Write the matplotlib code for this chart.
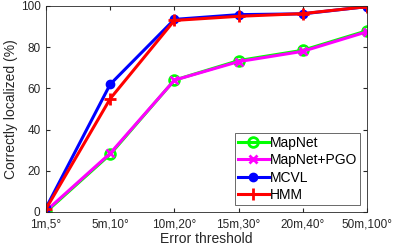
import matplotlib
matplotlib.use('Agg')
import matplotlib.pyplot as plt
import numpy as np

plt.rcParams['font.family'] = ['Liberation Sans', 'DejaVu Sans']

thresholds = ['1m,5°', '5m,10°', '10m,20°', '15m,30°', '20m,40°', '50m,100°']
mapnet = [0.0, 28.0, 64.0, 73.5, 78.5, 88.0]
mapnet_pgo = [0.5, 28.5, 64.0, 73.0, 78.0, 87.5]
mcvl = [2.0, 62.0, 93.5, 95.8, 96.2, 99.7]
hmm = [1.5, 55.0, 93.0, 95.0, 96.3, 99.7]

x = np.arange(1, len(thresholds) + 1)

fig = plt.figure(figsize=(3.99, 2.48), dpi=100)
ax = fig.add_axes([46/399, 36/248, 321/399, 206/248])

ax.plot(x, mapnet, '-o', color='#00ff00', lw=2.2, ms=7, mfc='none', mew=2, label='MapNet')
ax.plot(x, mapnet_pgo, '-x', color='#ff00ff', lw=2.2, ms=6, mew=2, label='MapNet+PGO')
ax.plot(x, mcvl, '-o', color='#0000ff', lw=2.2, ms=6, label='MCVL')
ax.plot(x, hmm, '-+', color='#ff0000', lw=2.2, ms=8, mew=2, label='HMM')

ax.set_xlim(1, 6)
ax.set_ylim(0, 100)
ax.set_xticks(x)
ax.set_xticklabels(thresholds)
ax.set_yticks([0, 20, 40, 60, 80, 100])
ax.tick_params(direction='in', labelsize=8.5, colors='#262626', length=3,
               top=True, right=True)
ax.tick_params(axis='x', pad=5)
ax.tick_params(axis='y', pad=4)
for s in ax.spines.values():
    s.set_color('#262626')
    s.set_linewidth(0.6)
ax.set_xlabel('Error threshold', fontsize=10, color='#262626', labelpad=1)
ax.set_ylabel('Correctly localized (%)', fontsize=10, color='#262626', labelpad=2)

leg = ax.legend(loc='lower right', fontsize=10, frameon=True, fancybox=False,
                edgecolor='#262626', borderpad=0.2, labelspacing=0.25,
                handlelength=2.2, handletextpad=0.1, borderaxespad=0.5)
leg.get_frame().set_linewidth(0.6)

fig.savefig('out.png', dpi=100)
